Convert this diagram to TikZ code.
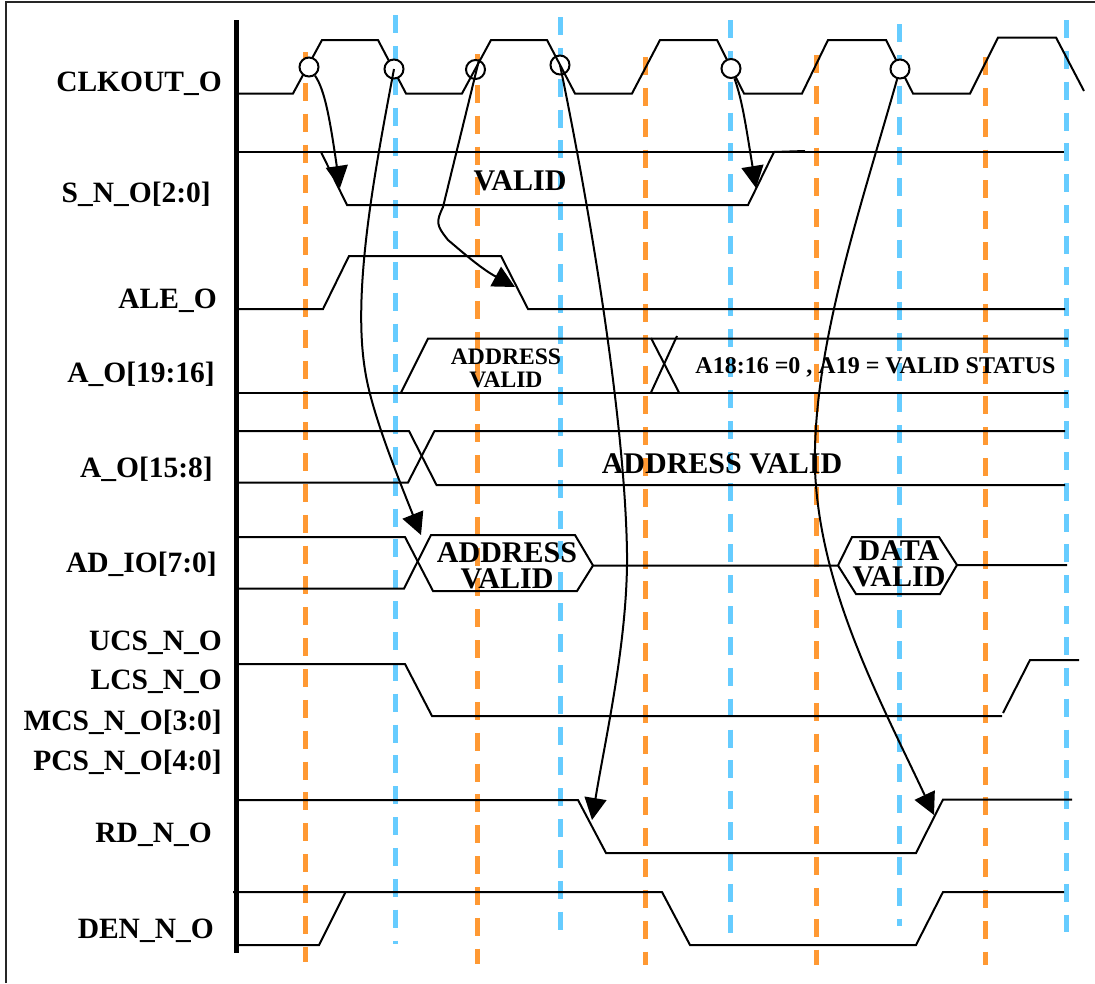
\documentclass[tikz,border=0pt]{standalone}
\usepackage{fontspec}
\setmainfont{Liberation Serif}
\usetikzlibrary{arrows.meta}
\definecolor{dashorange}{RGB}{255,153,51}
\definecolor{dashblue}{RGB}{102,204,255}
\tikzset{
  wave/.style={line width=2pt, black, line join=miter},
  orangeline/.style={line width=5pt, dashorange, dash pattern=on 18pt off 12.85pt},
  blueline/.style={line width=5pt, dashblue, dash pattern=on 18pt off 12.85pt},
  edgemark/.style={circle, draw=black, fill=white, line width=2pt, minimum size=19pt, inner sep=0pt},
  arrow/.style={line width=2pt, -{Triangle[length=22pt,width=22pt]}},
  signal/.style={anchor=base east, inner sep=0pt, font=\bfseries\fontsize{29.5}{29.5}\selectfont},
  bigtext/.style={align=center, inner sep=0pt, font=\bfseries\fontsize{30}{26}\selectfont},
  smalltext/.style={align=center, inner sep=0pt, font=\bfseries\fontsize{23.6}{23}\selectfont}
}
\begin{document}
\begin{tikzpicture}[x=1pt, y=-1pt]
  \useasboundingbox (0,0) rectangle (1095,983);

  % Rahmen und Achse
  \draw [line width=2pt, black!85] (6,983) -- (6,2) -- (1095,2);
  \draw [line width=5pt] (236,20) -- (236,953);

  % Taktflanken
  \draw [orangeline] (305.5,52) -- (305.5,962);
  \draw [orangeline] (477,54) -- (477,964);
  \draw [orangeline] (645.5,57) -- (645.5,965);
  \draw [orangeline] (816.5,55) -- (816.5,965);
  \draw [orangeline] (985.5,57) -- (985.5,965);
  \draw [blueline] (395.5,15) -- (395.5,944);
  \draw [blueline] (560.5,17) -- (560.5,934);
  \draw [blueline] (730.5,20) -- (730.5,937);
  \draw [blueline] (899,24) -- (899,926);
  \draw [blueline] (1066.5,20) -- (1066.5,932);

  % Flankenmarken unter dem Takt
  \node (mark3) [edgemark] at (475.5,69.5) {};
  \node (mark4) [edgemark] at (560,65) {};

  % Signale
  \draw [wave] (238,93.5) -- (293,93.5) -- (322,40) -- (378,40) -- (406,93.5) -- (462,93.5) -- (491,40) -- (547,40) -- (575,93.5) -- (632,93.5) -- (660,40) -- (717,40) -- (744,93.5) -- (802,93.5) -- (828,40) -- (886,40) -- (913,93.5) -- (970,93.5) -- (998,37.5) -- (1056,37.5) -- (1084,91);

  \draw [wave] (238,151.5) -- (1064,151.5);
  \draw [wave] (321,152) -- (347,205) -- (748,205) -- (774,152) -- (805,151);

  \draw [wave] (238,309) -- (323,309) -- (349,256) -- (501,256) -- (528,309) -- (1065,309);

  \draw [wave] (238,392.5) -- (1068,392.5);
  \draw [wave] (401,392.5) -- (428,338.5) -- (1068,338.5);
  \draw [wave] (651,338) -- (679,392.5);
  \draw [wave] (677,336) -- (651,392.5);

  \draw [wave] (238,431) -- (409,431) -- (436.5,485) -- (1065,485);
  \draw [wave] (238,482.5) -- (408,482.5) -- (434.5,431) -- (1065,431);

  \draw [wave] (238,537) -- (405,537) -- (433,591) -- (577,591) -- (593,565.5) -- (838,565.5) -- (856,594) -- (940,594) -- (957,565) -- (1067,565);
  \draw [wave] (238,588.5) -- (404,588.5) -- (431,535) -- (575,535) -- (593,565.5);
  \draw [wave] (838,565.5) -- (852,537) -- (939,537) -- (957,565);

  \draw [wave] (238,664) -- (405,664) -- (432,716) -- (1002,716);
  \draw [wave] (1003,713) -- (1030,660) -- (1079,660);

  \draw [wave] (238,800) -- (578,800) -- (606,853) -- (916,853) -- (943,799.5) -- (1072,799.5);

  \draw [wave] (233,892) -- (662,892) -- (690,945) -- (916,945) -- (943,892) -- (1064,892);
  \draw [wave] (238,945) -- (319,945) -- (345.5,892);

  % Beschriftung links
  \node (clkout) [signal] at (222,91) {CLKOUT\_O};
  \node (snout) [signal] at (211,202) {S\_N\_O[2:0]};
  \node (ale) [signal] at (217,308) {ALE\_O};
  \node (ahigh) [signal] at (215,382) {A\_O[19:16]};
  \node (amid) [signal] at (213,477) {A\_O[15:8]};
  \node (adio) [signal] at (217,572) {AD\_IO[7:0]};
  \node (ucs) [signal] at (222,650) {UCS\_N\_O};
  \node (lcs) [signal] at (222,689) {LCS\_N\_O};
  \node (mcs) [signal] at (222,730) {MCS\_N\_O[3:0]};
  \node (pcs) [signal] at (222,770) {PCS\_N\_O[4:0]};
  \node (rd) [signal] at (212,842) {RD\_N\_O};
  \node (den) [signal] at (214,938) {DEN\_N\_O};

  % Texte in den Signalen
  \node (svalid) [bigtext] at (520,181) {VALID};
  \node (ahighvalid) [smalltext] at (506,368) {ADDRESS\\VALID};
  \node (status) [smalltext, font=\bfseries\fontsize{24}{24}\selectfont] at (875.5,367) {A18:16 =0 , A19 = VALID STATUS};
  \node (amidvalid) [bigtext] at (722,464) {ADDRESS VALID};
  \node (advalid) [bigtext] at (507,566) {ADDRESS\\VALID};
  \node (datavalid) [bigtext] at (899,564) {DATA\\VALID};

  % Flankenmarken
  \node (mark1) [edgemark] at (309,67) {};
  \node (mark2) [edgemark] at (394,69) {};
  \node (mark5) [edgemark] at (731,68.5) {};
  \node (mark6) [edgemark] at (900,69) {};

  % Pfeilziele
  \coordinate (tip1) at (340,188);
  \coordinate (tip2) at (421,535);
  \coordinate (tip3) at (515,287);
  \coordinate (tip4) at (592,820);
  \coordinate (tip5) at (756,188);
  \coordinate (tip6) at (934,815);

  % Pfeile
  \draw [arrow] (mark1) .. controls (325,90) and (330,120) .. (tip1);
  \draw [arrow] (mark2.center) .. controls (375,170) and (352,290) .. (365,370) .. controls (371,410) and (395,470) .. (tip2);
  \draw [arrow] (mark3.70) -- (443,207) .. controls (436,222) and (436,225) .. (448,240) .. controls (460,250) and (480,268) .. (tip3);
  \draw [arrow] (mark4.center) .. controls (590,210) and (625,420) .. (627,553) .. controls (628,640) and (605,740) .. (tip4);
  \draw [arrow] (mark5) .. controls (742,100) and (745,120) .. (tip5);
  \draw [arrow] (mark6) .. controls (860,210) and (812,350) .. (815,470) .. controls (820,590) and (880,700) .. (tip6);
\end{tikzpicture}
\end{document}
